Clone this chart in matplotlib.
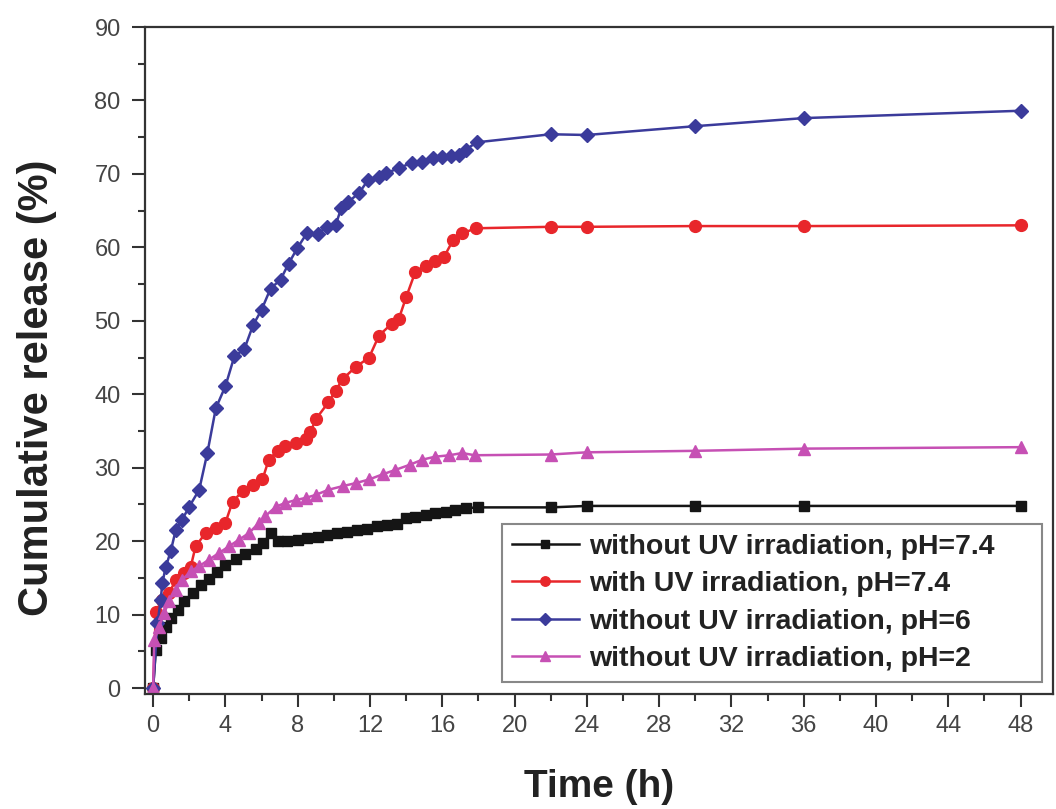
import matplotlib
matplotlib.use("Agg")
import matplotlib.pyplot as plt

plt.rcParams['font.family'] = ['Liberation Sans', 'DejaVu Sans']

# without UV, pH 7.4
t_black = [0, 0.15, 0.42, 0.7, 0.97, 1.35, 1.7, 2.2, 2.64, 3.1, 3.56, 4.0, 4.57, 5.1,
           5.7, 6.1, 6.5, 6.9, 7.4, 8.0, 8.5, 9.1, 9.6, 10.2, 10.75, 11.3, 11.85, 12.4,
           12.95, 13.5, 14.0, 14.5, 15.1, 15.6, 16.2, 16.7, 17.3, 18.0, 22, 24, 30, 36, 48]
v_black = [0, 5.2, 6.8, 8.3, 9.5, 10.6, 11.8, 12.9, 14.0, 14.9, 15.8, 16.7, 17.6, 18.3,
           19.0, 19.7, 21.1, 20.0, 20.0, 20.2, 20.4, 20.6, 20.8, 21.1, 21.3, 21.5, 21.7, 22.0,
           22.2, 22.4, 23.1, 23.3, 23.6, 23.8, 24.0, 24.2, 24.5, 24.6, 24.6, 24.8, 24.8, 24.8, 24.8]

# with UV, pH 7.4
t_red = [0, 0.15, 0.5, 0.88, 1.25, 1.7, 2.08, 2.35, 2.9, 3.47, 4.0, 4.4, 4.95, 5.5, 6.05,
         6.4, 6.9, 7.3, 7.9, 8.45, 8.7, 9.0, 9.7, 10.1, 10.5, 11.2, 11.95, 12.5, 13.2, 13.6,
         14.0, 14.5, 15.1, 15.6, 16.1, 16.6, 17.1, 17.85, 22, 24, 30, 36, 48]
v_red = [0, 10.4, 12.0, 12.9, 14.7, 15.6, 16.5, 19.3, 21.1, 21.8, 22.5, 25.4, 26.8, 27.7, 28.4,
         31.1, 32.3, 32.9, 33.4, 33.9, 34.8, 36.6, 38.9, 40.5, 42.1, 43.7, 45.0, 48.0, 49.6, 50.3,
         53.2, 56.6, 57.5, 58.2, 58.7, 61.0, 61.9, 62.6, 62.8, 62.8, 62.9, 62.9, 63.0]

# without UV, pH 6
t_blue = [0, 0.24, 0.42, 0.51, 0.7, 0.97, 1.25, 1.6, 2.0, 2.55, 3.0, 3.47, 4.0, 4.5, 5.04,
          5.53, 6.0, 6.5, 7.05, 7.5, 7.98, 8.5, 9.1, 9.6, 10.1, 10.4, 10.8, 11.4, 11.9, 12.5,
          12.9, 13.6, 14.3, 14.9, 15.5, 16.0, 16.5, 16.9, 17.3, 17.9, 22, 24, 30, 36, 48]
v_blue = [0, 8.8, 12.0, 14.3, 16.5, 18.6, 21.5, 22.9, 24.7, 27.0, 32.0, 38.1, 41.1, 45.2, 46.1,
          49.4, 51.5, 54.4, 55.6, 57.8, 59.9, 61.9, 61.8, 62.8, 63.0, 65.3, 66.2, 67.4, 69.2, 69.6,
          70.1, 70.8, 71.5, 71.6, 72.2, 72.3, 72.5, 72.6, 73.3, 74.3, 75.4, 75.3, 76.5, 77.6, 78.6]

# without UV, pH 2
t_mag = [0, 0.06, 0.33, 0.61, 0.88, 1.25, 1.6, 2.08, 2.55, 3.1, 3.65, 4.2, 4.75, 5.3, 5.86,
         6.2, 6.8, 7.3, 7.9, 8.45, 9.0, 9.7, 10.5, 11.2, 11.95, 12.7, 13.4, 14.2, 14.9, 15.6,
         16.4, 17.1, 17.8, 22, 24, 30, 36, 48]
v_mag = [0, 6.5, 8.3, 10.2, 11.8, 13.4, 14.7, 15.9, 16.6, 17.5, 18.4, 19.3, 20.2, 21.1, 22.5,
         23.4, 24.7, 25.2, 25.6, 25.9, 26.3, 27.0, 27.5, 27.9, 28.4, 29.1, 29.7, 30.4, 31.1, 31.5,
         31.7, 32.0, 31.7, 31.8, 32.1, 32.3, 32.6, 32.8]

labels = ["without UV irradiation, pH=7.4",
          "with UV irradiation, pH=7.4",
          "without UV irradiation, pH=6",
          "without UV irradiation, pH=2"]

fig = plt.figure(figsize=(10.56, 8.09), dpi=100)
ax = fig.add_axes([0.1373, 0.1422, 0.8599, 0.8244])

ax.plot(t_black, v_black, color='#151515', marker='s', ms=7, lw=1.8, label=labels[0])
ax.plot(t_red, v_red, color='#e8262b', marker='o', ms=8.5, lw=1.8, label=labels[1])
ax.plot(t_blue, v_blue, color='#3b3b9b', marker='D', ms=7.5, lw=1.8, label=labels[2])
ax.plot(t_mag, v_mag, color='#c650b4', marker='^', ms=9, lw=1.8, label=labels[3])

ax.set_xlim(-0.45, 49.8)
ax.set_ylim(-0.8, 90)
ax.set_xticks(range(0, 49, 4))
ax.set_xticks(range(2, 49, 4), minor=True)
ax.set_yticks(range(0, 91, 10))
ax.set_yticks(range(5, 90, 10), minor=True)

for s in ax.spines.values():
    s.set_color('#333333')
    s.set_linewidth(1.6)

ax.tick_params(which='major', direction='out', length=9.5, width=1.5, color='#333333',
               labelsize=17, labelcolor='#444444', pad=6)
ax.tick_params(which='minor', direction='out', length=5, width=1.5, color='#333333')
ax.tick_params(axis='y', which='major', pad=8)

ax.set_xlabel("Time (h)", fontsize=28, fontweight='bold', color='#222222')
ax.xaxis.set_label_coords(0.5, -0.113)
ax.set_ylabel("Cumulative release (%)", fontsize=30, fontweight='bold', color='#222222')
ax.yaxis.set_label_coords(-0.097, 0.459)

leg = ax.legend(loc='lower left', bbox_to_anchor=(0.393, 0.018, 0.595, 0.2), mode='expand',
                borderaxespad=0, prop={'size': 20.5, 'weight': 'bold'}, fancybox=False,
                framealpha=1, edgecolor='#888888', handlelength=2.35, handletextpad=0.35,
                labelspacing=0.4, borderpad=0.35, markerscale=0.8)
leg.get_frame().set_linewidth(1.5)
for txt in leg.get_texts():
    txt.set_color('#222222')

fig.savefig("out.png", dpi=100, facecolor='white')
